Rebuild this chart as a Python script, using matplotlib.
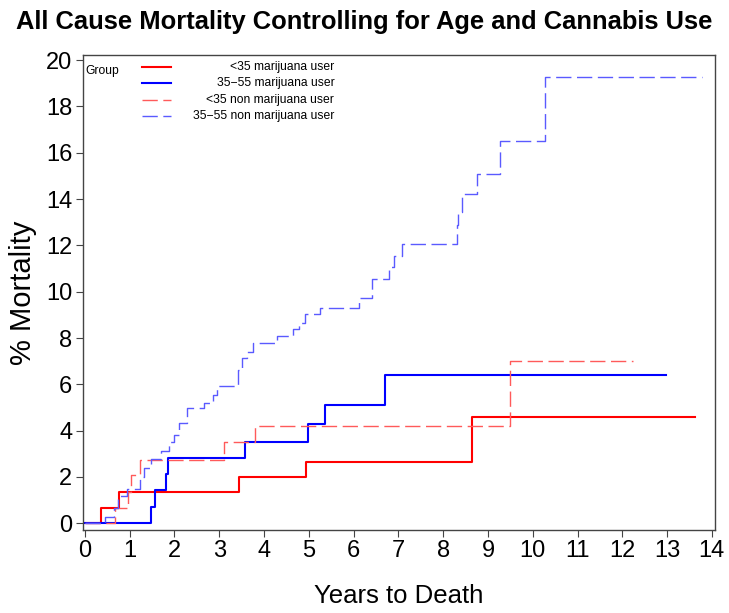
import matplotlib
matplotlib.use("Agg")
import matplotlib.pyplot as plt

# Kaplan-Meier style cumulative mortality (%)
grupos = ["<35 marijuana user", "35\u221255 marijuana user",
          "<35 non marijuana user", "35\u221255 non marijuana user"]

t_lt35_mj = [0, 0.35, 0.76, 3.43, 4.94, 8.64, 13.62]
v_lt35_mj = [0, 0.68, 1.33, 1.98, 2.66, 4.61, 4.61]

t_3555_mj = [0, 1.47, 1.57, 1.80, 1.86, 3.58, 4.98, 5.37, 6.71, 12.97]
v_3555_mj = [0, 0.71, 1.43, 2.11, 2.80, 3.52, 4.27, 5.12, 6.42, 6.42]

t_lt35_non = [0, 0.67, 0.97, 1.04, 1.23, 3.11, 3.80, 9.49, 12.25]
v_lt35_non = [0, 0.68, 1.33, 2.08, 2.75, 3.50, 4.19, 7.00, 7.00]

t_3555_non = [0, 0.45, 0.65, 0.75, 0.95, 1.24, 1.32, 1.47, 1.69, 1.88, 1.99,
              2.10, 2.27, 2.66, 2.85, 2.96, 3.41, 3.50, 3.63, 3.75, 4.30,
              4.64, 4.77, 4.92, 5.25, 6.13, 6.41, 6.80, 6.91, 7.09, 8.31,
              8.33, 8.43, 8.76, 9.28, 10.27, 13.77]
v_3555_non = [0, 0.27, 0.64, 1.17, 1.50, 2.00, 2.37, 2.76, 3.10, 3.53, 3.82,
              4.32, 4.97, 5.19, 5.55, 5.92, 6.64, 7.14, 7.40, 7.77, 8.07,
              8.37, 8.66, 9.02, 9.31, 9.72, 10.54, 11.05, 11.53, 12.06, 12.90,
              13.43, 14.20, 15.07, 16.52, 19.25, 19.25]

series = [(t_lt35_mj, v_lt35_mj), (t_3555_mj, v_3555_mj),
          (t_lt35_non, v_lt35_non), (t_3555_non, v_3555_non)]
cores = ["#ff0000", "#0000ff", "#ff5a5a", "#5a5aff"]
estilos = [dict(lw=1.5), dict(lw=1.5),
           dict(lw=1.0, dashes=(11, 4)), dict(lw=1.0, dashes=(11, 4))]

plt.rcParams["font.family"] = ["Liberation Sans", "DejaVu Sans"]

fig = plt.figure(figsize=(7.29, 6.13), dpi=100)
ax = fig.add_axes([0.1134, 0.1354, 0.9808 - 0.1134, 0.9103 - 0.1354])

for (t, v), cor, est in zip(series, cores, estilos):
    ax.step(t, v, where="post", color=cor, **est)

ax.set_xlim(-0.05, 14.07)
ax.set_ylim(-0.29, 20.22)
ax.set_xticks(range(0, 15))
ax.set_yticks(range(0, 21, 2))
ax.tick_params(labelsize=17, direction="out", length=5, width=0.8,
               color="#444444", pad=2.5)
for s in ax.spines.values():
    s.set_color("#444444")
    s.set_linewidth(1.0)

ax.set_xlabel("Years to Death", fontsize=18.5)
ax.xaxis.set_label_coords(0.5, -0.113)
ax.set_ylabel("% Mortality", fontsize=21)
ax.yaxis.set_label_coords(-0.072, 0.5)
fig.suptitle("All Cause Mortality Controlling for Age and Cannabis Use",
             fontsize=18.4, fontweight="bold", y=0.983)

# legenda feita a mao (texto alinhado a direita, como no original)
ax.text(0.004, 0.966, "Group", transform=ax.transAxes, fontsize=8.7,
        va="center", ha="left")
y0 = 0.975
for i, (nome, cor, est) in enumerate(zip(grupos, cores, estilos)):
    y = y0 - i * 0.0345
    ax.plot([0.094, 0.14], [y, y], transform=ax.transAxes, color=cor, **est)
    ax.text(0.398, y, nome, transform=ax.transAxes, fontsize=8.7,
            va="center", ha="right")

fig.savefig("out.png", dpi=100)
